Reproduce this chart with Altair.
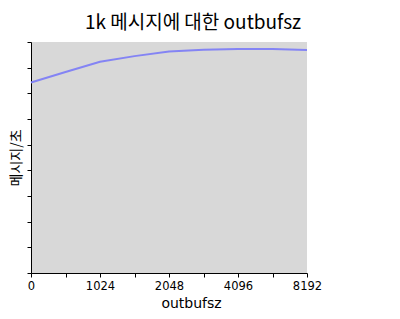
import altair as alt
import pandas as pd

# x positions (evenly spaced categories on axis), y values in arbitrary units (axis unlabeled)
x_pos = [0, 1, 2, 3, 4, 5, 6, 7, 8]
msgs_per_sec = [7.42, 7.83, 8.23, 8.45, 8.63, 8.70, 8.73, 8.73, 8.69]
tick_labels = ["0", "", "1024", "", "2048", "", "4096", "", "8192"]

df = pd.DataFrame({"x": x_pos, "y": msgs_per_sec})

label_expr = "[" + ",".join("'%s'" % t for t in tick_labels) + "][datum.value]"

chart = alt.Chart(df).mark_line(color="#8484f4", strokeWidth=2).encode(
    x=alt.X("x:Q", scale=alt.Scale(domain=[0, 8], nice=False, zero=False),
            axis=alt.Axis(values=x_pos, labelExpr=label_expr, title="outbufsz",
                          grid=False, domainColor="black", tickColor="black",
                          tickSize=4, labelFont="DejaVu Sans", labelFontSize=11.5,
                          labelColor="black", labelPadding=3, labelFlush=False,
                          titleFont="DejaVu Sans", titleFontSize=14, titleFontWeight="normal",
                          titleColor="black", titleX=160, titlePadding=5)),
    y=alt.Y("y:Q", scale=alt.Scale(domain=[0, 9], nice=False),
            axis=alt.Axis(values=list(range(10)), labels=False, title="메시지/초",
                          grid=False, domainColor="black", tickColor="black", tickSize=4,
                          titleFont="Noto Sans CJK KR", titleFontSize=14, titleFontWeight="normal",
                          titleColor="black", titlePadding=3)),
).properties(
    width=276,
    height=231,
    title=alt.TitleParams("1k 메시지에 대한 outbufsz", font="Noto Sans CJK KR", fontSize=19,
                          fontWeight="normal", color="black", anchor="middle", dx=24, offset=9),
    autosize=alt.AutoSizeParams(type="none"),
    padding={"left": 31, "top": 42, "right": 93, "bottom": 46},
).configure(background="white").configure_view(fill="#d8d8d8", stroke=None)

chart.save("out.html", embed_options={"renderer": "svg", "actions": False})
